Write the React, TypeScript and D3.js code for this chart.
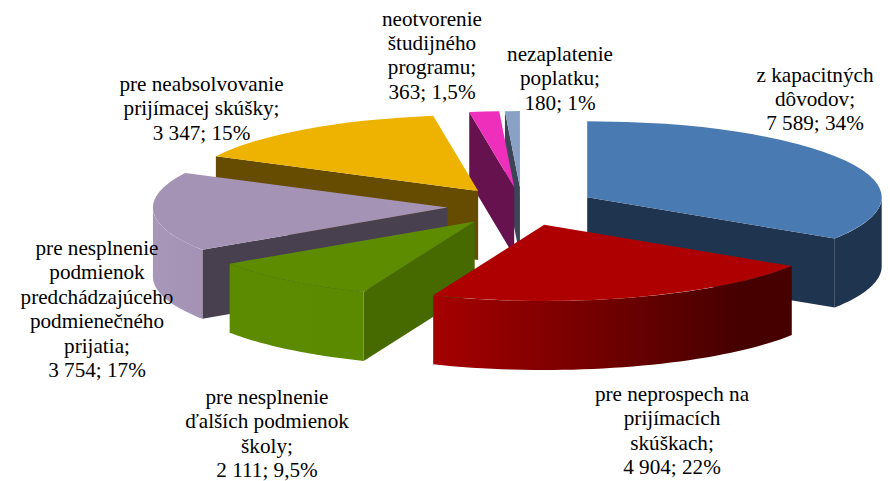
import React from 'react';
import * as d3 from 'd3';

const WIDTH = 890;
const HEIGHT = 481;

const categories = [
  ['z kapacitných', 'dôvodov;', '7 589; 34%'],
  ['pre neprospech na', 'prijímacích', 'skúškach;', '4 904; 22%'],
  ['pre nesplnenie', 'ďalších podmienok', 'školy;', '2 111; 9,5%'],
  ['pre nesplnenie', 'podmienok', 'predchádzajúceho', 'podmienečného', 'prijatia;', '3 754; 17%'],
  ['pre neabsolvovanie', 'prijímacej skúšky;', '3 347; 15%'],
  ['neotvorenie', 'študijného', 'programu;', '363; 1,5%'],
  ['nezaplatenie', 'poplatku;', '180; 1%'],
];
const values = [7589, 4904, 2111, 3754, 3347, 363, 180];

const topColors = ['#4a7ab2', '#ae0000', '#5d8c00', '#a593b6', '#eeb200', '#ee2fbb', '#8aa1c6'];
const cutColors = ['#1f344f', '#4a0000', '#466a00', '#48404f', '#664c00', '#66124f', '#3c4557'];
const rimStops = [
  ['#1f344f', '#1f344f'],
  ['#a60000', '#470000'],
  ['#5c8b00', '#5b8900'],
  ['#a997ba', '#a593b6'],
  ['#000', '#000'],
  ['#000', '#000'],
  ['#000', '#000'],
];

// where the label blocks sit: centre x, first baseline
const labelX = [815, 672, 267, 97, 201.5, 432, 560];
const labelY = [81.5, 400.7, 404, 255, 91, 25.5, 61];
const LINE = 24.4;

// back to front
const paintOrder = [0, 6, 5, 4, 3, 2, 1];

const cx = 521.8;
const cy = 206.5;
const rx = 294.5;
const squash = 0.2585;
const depth = 69;
const explode = 74.5;

const pie = d3.pie<number>().sort(null).value(d => d);
const arcs = pie(values);
const topArc = d3.arc<d3.PieArcDatum<number>>().innerRadius(0).outerRadius(rx);
const line = d3.line();

const Slice = ({ i }: { i: number }) => {
  const a = arcs[i];
  const mid = (a.startAngle + a.endAngle) / 2;
  const ox = cx + explode * Math.sin(mid);
  const oy = cy - explode * squash * Math.cos(mid);

  const pt = (t: number, drop = 0): [number, number] => [
    ox + rx * Math.sin(t),
    oy - rx * squash * Math.cos(t) + drop,
  ];

  // radial cut faces, only the ones turned to the viewer
  const cuts: string[] = [];
  if (Math.sin(a.startAngle) < -1e-6) {
    cuts.push(line([[ox, oy], pt(a.startAngle), pt(a.startAngle, depth), [ox, oy + depth]])! + 'Z');
  }
  if (Math.sin(a.endAngle) > 1e-6) {
    cuts.push(line([[ox, oy], pt(a.endAngle), pt(a.endAngle, depth), [ox, oy + depth]])! + 'Z');
  }

  // outer wall, front half of the ellipse only
  const from = Math.max(a.startAngle, Math.PI / 2);
  const to = Math.min(a.endAngle, (Math.PI * 3) / 2);
  let rim: string | null = null;
  let gx: number[] = [0, 0];
  if (to > from) {
    const ts = d3.range(41).map(k => from + ((to - from) * k) / 40);
    const upper = ts.map(t => pt(t));
    const lower = ts.map(t => pt(t, depth)).reverse();
    rim = line([...upper, ...lower])! + 'Z';
    gx = d3.extent(upper, p => p[0]) as number[];
  }

  return (
    <g>
      {rim && (
        <linearGradient id={`rim${i}`} gradientUnits="userSpaceOnUse" x1={gx[0]} x2={gx[1]} y1={0} y2={0}>
          <stop offset="0" stopColor={rimStops[i][0]} />
          <stop offset="0.85" stopColor={rimStops[i][1]} />
        </linearGradient>
      )}
      {cuts.map((d, k) => (
        <path key={k} d={d} fill={cutColors[i]} />
      ))}
      {rim && <path d={rim} fill={`url(#rim${i})`} />}
      <path
        d={topArc(a)!}
        fill={topColors[i]}
        transform={`translate(${ox},${oy}) scale(1,${squash})`}
      />
    </g>
  );
};

export default function App() {
  return (
    <svg
      width={WIDTH}
      height={HEIGHT}
      viewBox={`0 0 ${WIDTH} ${HEIGHT}`}
      style={{ position: 'absolute', left: 0, top: 0, background: '#fff' }}
    >
      {paintOrder.map(i => (
        <Slice key={i} i={i} />
      ))}
      <g fontFamily="'Liberation Serif', serif" fontSize={21.2} fill="#000" textAnchor="middle">
        {categories.map((lines, i) => (
          <text key={i} x={labelX[i]} y={labelY[i]}>
            {lines.map((l, k) => (
              <tspan key={k} x={labelX[i]} y={labelY[i] + k * LINE}>
                {l}
              </tspan>
            ))}
          </text>
        ))}
      </g>
    </svg>
  );
}
